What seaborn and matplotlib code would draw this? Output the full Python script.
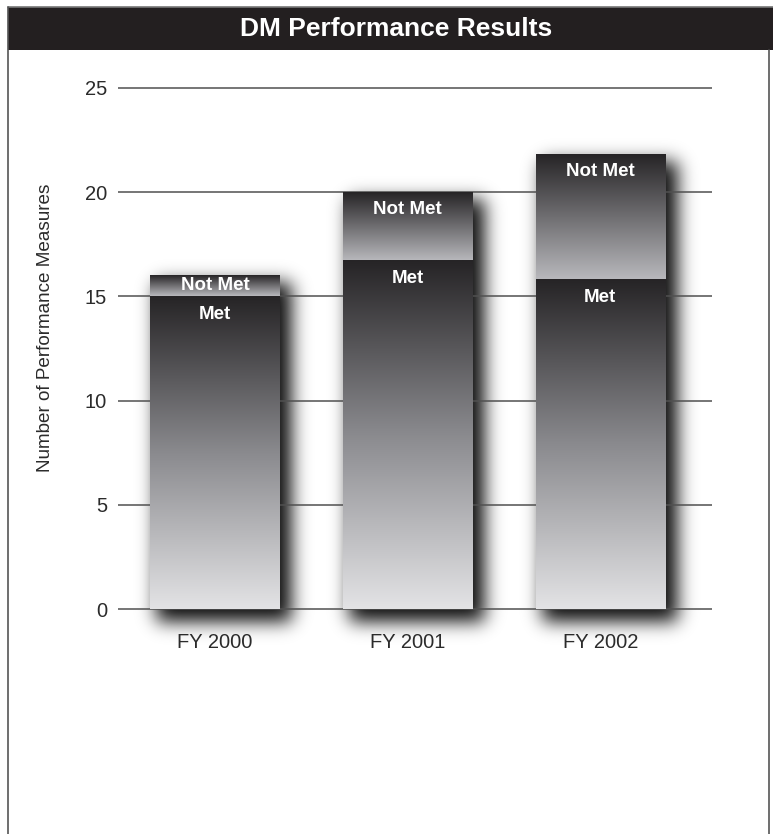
import numpy as np
import pandas as pd
import matplotlib
matplotlib.use("Agg")
import matplotlib.pyplot as plt
import seaborn as sns
from matplotlib.colors import LinearSegmentedColormap
from matplotlib.patches import Rectangle
from matplotlib.lines import Line2D
from math import erf

years = ["FY 2000", "FY 2001", "FY 2002"]
met = [15, 16.7, 15.8]
not_met = [1, 3.3, 6]
y_ticks = [0, 5, 10, 15, 20, 25]

sns.set_theme(style="white")
plt.rcParams["font.family"] = ["Liberation Sans", "DejaVu Sans"]

df = pd.DataFrame({"year": years, "met": met, "not_met": not_met})
df["total"] = df["met"] + df["not_met"]

W, H = 773, 834
fig = plt.figure(figsize=(W / 100, H / 100), dpi=100)
fig.patch.set_facecolor("white")
ax = fig.add_axes([118 / W, 0.24976, 594 / W, 0.66727])
ax.set_facecolor("none")

# stacked bars: totals first, then the Met part over them
sns.barplot(data=df, x="year", y="total", color="#888888", width=0.67, ax=ax,
            saturation=1)
n_total = len(ax.patches)
sns.barplot(data=df, x="year", y="met", color="#444444", width=0.67, ax=ax,
            saturation=1)
total_patches = ax.patches[:n_total]
met_patches = ax.patches[n_total:]

XLIM = (-0.503, 2.58)
YLIM = (-0.8, 25.9)

met_cmap = LinearSegmentedColormap.from_list("met", ["#e3e3e5", "#8a8a8e", "#262426"])
nm_cmap = LinearSegmentedColormap.from_list("nm", ["#b9b9bd", "#262426"])

verf = np.vectorize(erf)


def box_blur(v, lo, hi, s):
    return 0.5 * (verf((v - lo) / (np.sqrt(2) * s)) - verf((v - hi) / (np.sqrt(2) * s)))


# pixel scale in data units
px_x = (XLIM[1] - XLIM[0]) / 594
px_y = (YLIM[1] - YLIM[0]) / (834 * 0.66727)

for p in total_patches:
    x0, w = p.get_x(), p.get_width()
    top = p.get_height()
    x1 = x0 + w
    # soft drop shadow, offset down and to the right
    dx, dy = 9 * px_x, -10 * px_y
    grow_x, grow_y = 3 * px_x, 3 * px_y
    sx, sy = 9 * px_x, 9 * px_y
    ex0, ex1 = x0 - 20 * px_x, x1 + 55 * px_x
    ey0, ey1 = -55 * px_y, top + 20 * px_y
    xs = np.linspace(ex0, ex1, 240)
    ys = np.linspace(ey0, ey1, 450)
    ax_ = box_blur(xs, x0 + dx - grow_x, x1 + dx + grow_x, sx)
    ay_ = box_blur(ys, dy - grow_y, top + dy + grow_y, sy)
    alpha = np.outer(ay_, ax_) * 0.95
    img = np.zeros((len(ys), len(xs), 4))
    img[..., 3] = alpha
    ax.imshow(img, extent=(ex0, ex1, ey0, ey1), origin="lower", aspect="auto",
              interpolation="bilinear", zorder=0.2, clip_on=False)

for p_tot, p_met in zip(total_patches, met_patches):
    x0, w = p_tot.get_x(), p_tot.get_width()
    top = p_tot.get_height()
    mtop = p_met.get_height()
    grad = np.linspace(0, 1, 256).reshape(-1, 1)
    # Not Met segment
    ax.imshow(grad, cmap=nm_cmap, extent=(x0, x0 + w, mtop, top), origin="lower",
              aspect="auto", zorder=2, interpolation="bilinear")
    # Met segment
    ax.imshow(grad, cmap=met_cmap, extent=(x0, x0 + w, 0, mtop), origin="lower",
              aspect="auto", zorder=2, interpolation="bilinear")
    p_tot.set_visible(False)
    p_met.set_visible(False)
    cx = x0 + w / 2
    nm_y = max(top - 17 * px_y, (top + mtop) / 2)
    ax.text(cx, nm_y, "Not Met", ha="center", va="center", color="white",
            fontsize=13.5, fontweight="bold", zorder=5)
    ax.text(cx, mtop - 18 * px_y, "Met", ha="center", va="center", color="white",
            fontsize=13.5, fontweight="bold", zorder=5)

ax.set_xlim(*XLIM)
ax.set_ylim(*YLIM)
ax.set_yticks(y_ticks)
ax.set_yticklabels([str(t) for t in y_ticks])
ax.yaxis.grid(True, color="#505050", linewidth=1.1)
ax.set_axisbelow(True)
for s in ax.spines.values():
    s.set_visible(False)
ax.tick_params(axis="y", length=0, pad=8, labelsize=14.5, labelcolor="#2b2b2b")
ax.tick_params(axis="x", length=0, pad=5, labelsize=14.5, labelcolor="#2b2b2b")
ax.set_xlabel("")
ax.set_ylabel("")

fig.text(46 / W, 1 - 328 / H, "Number of Performance Measures", rotation=90,
         ha="center", va="center", fontsize=13.6, color="#2b2b2b")

# header band and page frame
fig.patches.append(Rectangle((8 / W, 1 - 50 / H), 1 - 8 / W, 43 / H,
                             transform=fig.transFigure, facecolor="#231f20",
                             edgecolor="none", zorder=0))
fig.lines.append(Line2D([8 / W, 1], [1 - 7 / H, 1 - 7 / H], transform=fig.transFigure,
                        color="#777777", linewidth=1.2))
fig.lines.append(Line2D([8 / W, 8 / W], [0, 1 - 7 / H], transform=fig.transFigure,
                        color="#555555", linewidth=1.2))
fig.lines.append(Line2D([769 / W, 769 / W], [0, 1 - 50 / H], transform=fig.transFigure,
                        color="#555555", linewidth=1.2))
fig.text(396 / W, 1 - 29 / H, "DM Performance Results",
         ha="center", va="center", color="white", fontsize=19, fontweight="bold")

fig.savefig("out.png", dpi=100)
